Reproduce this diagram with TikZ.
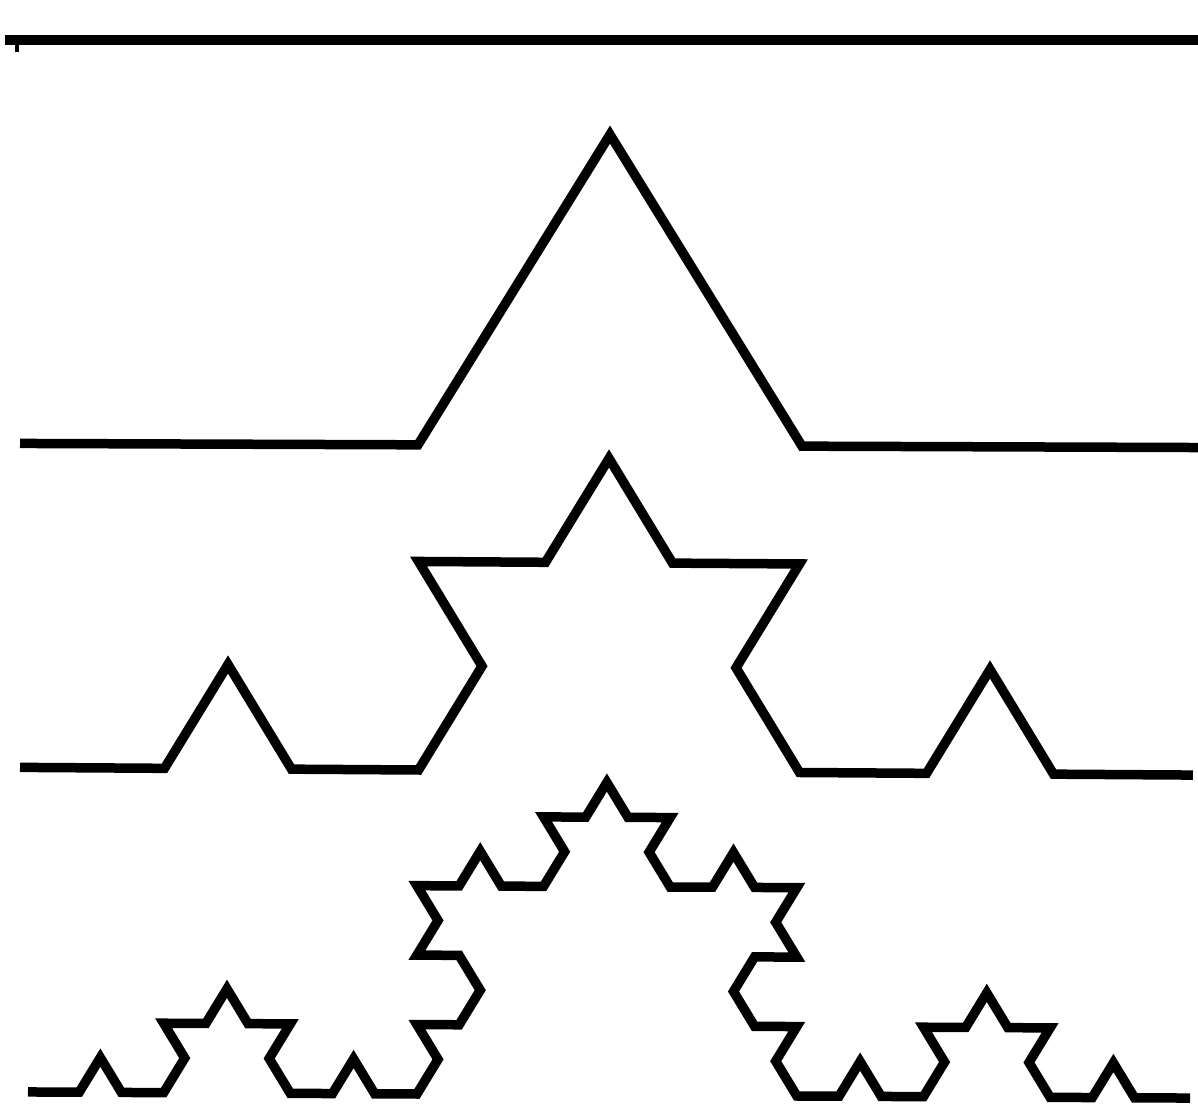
\documentclass[tikz,border=0pt]{standalone}
\begin{document}
\begin{tikzpicture}[x=1pt,y=1pt,
  curve/.style={line width=9.5pt, line join=miter, miter limit=10, line cap=butt},
  declare function={kd(\n,\p)=mod(floor(\n/4^\p),4); ka(\d)=60*(equal(\d,1)-equal(\d,2));}]
\useasboundingbox (0,0) rectangle (1198,1113);

% level 0
\coordinate (l0a) at (5,1073);
\coordinate (l0b) at (1198,1073);
\draw[curve] (l0a) -- (l0b);
\coordinate (tk) at (17,1069);
\coordinate (tkb) at (17,1061);
\draw[line width=3.5pt] (tk) -- (tkb);

% level 1
\begin{scope}[shift={(34,669.5)}, x={(1152pt,-4pt)}, y={(0pt,1077pt)}]
\draw[curve] (-0.01215,0) -- (0,0)
  foreach \k [evaluate=\k as \a using {ka(kd(\k,0))+ka(kd(\k,1))+ka(kd(\k,2))}] in {0,...,3} { -- ++(\a:0.3333333) }
  -- (1.0104,0);
\end{scope}

% level 2
\begin{scope}[shift={(37.5,345.5)}, x={(1143pt,-7.5pt)}, y={(0pt,1083.6pt)}]
\draw[curve] (-0.0153,0) -- (0,0)
  foreach \k [evaluate=\k as \a using {ka(kd(\k,0))+ka(kd(\k,1))+ka(kd(\k,2))}] in {0,...,15} { -- ++(\a:0.1111111) }
  -- (1.0109,0);
\end{scope}

% level 3
\begin{scope}[shift={(37,21)}, x={(1140pt,-6pt)}, y={(0pt,1083pt)}]
\draw[curve] (-0.0079,0) -- (0,0)
  foreach \k [evaluate=\k as \a using {ka(kd(\k,0))+ka(kd(\k,1))+ka(kd(\k,2))}] in {0,...,63} { -- ++(\a:0.0370370) }
  -- (1.0114,0);
\end{scope}
\end{tikzpicture}
\end{document}
